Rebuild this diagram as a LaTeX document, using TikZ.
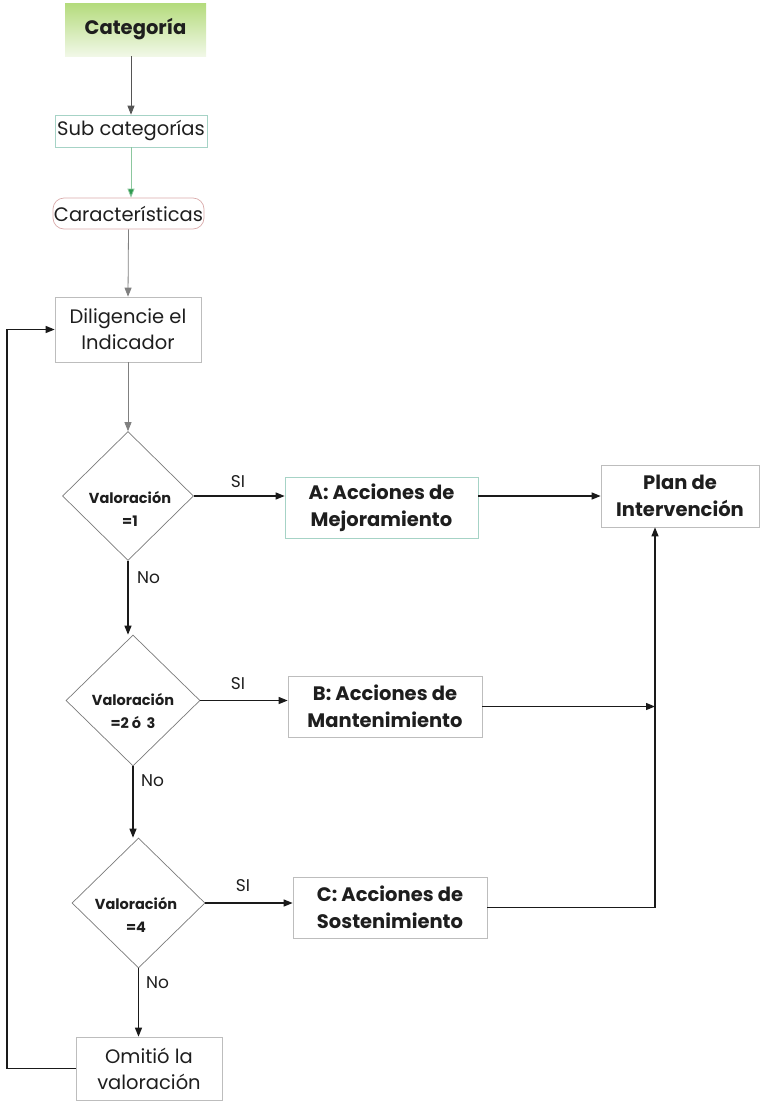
\documentclass[tikz,border=0pt]{standalone}
\usepackage{fontspec}
\setmainfont{Poppins}
\usetikzlibrary{shapes.geometric,arrows.meta,calc}
\definecolor{ink}{HTML}{1E1E1E}
\definecolor{wire}{HTML}{1A1A1A}
\definecolor{softwire}{HTML}{555555}
\definecolor{boxgray}{HTML}{BDBDBD}
\definecolor{tealline}{HTML}{A6D3C6}
\definecolor{pinkline}{HTML}{D9AAAA}
\definecolor{diagray}{HTML}{7A7A7A}
\definecolor{leafgreen}{HTML}{B4DB7C}
\definecolor{palegreen}{HTML}{F1F8E7}
\definecolor{arrowgreen}{HTML}{2E9A4E}
\begin{document}
\begin{tikzpicture}[x=1pt,y=-1pt,
  base/.style={rectangle, inner sep=0pt, align=center, text=ink},
  plainbox/.style={base, draw=boxgray, line width=0.7pt, font=\fontsize{19.5}{26}\selectfont},
  strongbox/.style={base, draw=boxgray, line width=0.7pt, font=\bfseries\fontsize{19.5}{27}\selectfont},
  decision/.style={diamond, draw=diagray, line width=0.7pt, inner sep=0pt},
  dtext/.style={align=center, text=ink, inner sep=0pt, font=\bfseries\fontsize{14.5}{23}\selectfont},
  lab/.style={text=ink, inner sep=0pt, font=\fontsize{17}{20}\selectfont},
  arr/.style={draw=wire, line width=1.3pt, -{Triangle[length=9pt,width=7pt]}},
  thinarr/.style={draw=softwire, line width=0.8pt, -{Triangle[length=9pt,width=7pt]}},
  wireline/.style={draw=wire, line width=1.3pt}
]
\useasboundingbox (0,0) rectangle (762,1101);

% header and top chain
\node[base, minimum width=141pt, minimum height=53pt, top color=leafgreen, bottom color=palegreen,
      font=\bfseries\fontsize{19.5}{24}\selectfont] (cat) at (135.5,29.5) {Categoría};
\node[plainbox, draw=tealline, minimum width=152pt, minimum height=32pt] (sub) at (131,131) {Sub categorías};
\node[plainbox, draw=pinkline, rounded corners=11pt, minimum width=151pt, minimum height=31pt] (car) at (128.5,213.5) {Características};
\node[plainbox, minimum width=146pt, minimum height=65pt] (dil) at (128,329.5) {Diligencie el\\Indicador};

% decisions
\node[decision, minimum width=131pt, minimum height=129pt] (D1) at (128,496) {};
\node[dtext] (D1t) at (130,509) {Valoración\\=1};
\node[decision, minimum width=134pt, minimum height=131pt] (D2) at (133,700.5) {};
\node[dtext] (D2t) at (133,711) {Valoración\\=2 ó \,3};
\node[decision, minimum width=133pt, minimum height=130pt] (D3) at (138.5,903) {};
\node[dtext] (D3t) at (136,915) {Valoración\\=4};

% actions
\node[strongbox, draw=tealline, minimum width=193pt, minimum height=61pt] (A) at (381.5,507.5) {A: Acciones de\\Mejoramiento};
\node[strongbox, minimum width=194pt, minimum height=61pt] (B) at (385,706.5) {B: Acciones de\\Mantenimiento};
\node[strongbox, minimum width=194pt, minimum height=61pt] (C) at (390,907.5) {C: Acciones de\\Sostenimiento};
\node[strongbox, minimum width=158pt, minimum height=62pt] (plan) at (680,496) {Plan de\\Intervención};

\node[plainbox, minimum width=146pt, minimum height=63pt] (om) at (149,1068.5) {Omitió la\\valoración};

% top chain connectors
\draw[thinarr] (cat.south -| sub.north) -- (sub.north);
\draw[draw=arrowgreen!55, line width=0.8pt, -{Triangle[length=9pt,width=7pt,fill=arrowgreen]}, arrowgreen!55]
  (sub.south) -- (sub.south |- car.north);
\draw[thinarr, draw=gray] (car.south) -- (dil.north);
\draw[thinarr, draw=gray] (dil.south) -- (D1.north);

% yes branches
\draw[arr] (D1.east) -- (D1.east -| A.west);
\draw[arr] (D2.east) -- (D2.east -| B.west);
\draw[arr] (D3.east) -- (D3.east -| C.west);
\node[lab] (si1) at (238,482) {SI};
\node[lab] (si2) at (238,684) {SI};
\node[lab] (si3) at (243,886) {SI};

% collection into the plan
\coordinate (hub) at ([xshift=-25pt]plan.south);
\draw[arr] (A.east |- plan.west) -- (plan.west);
\draw[arr] (B.east) -- (B.east -| hub);
\draw[arr] (C.east) -| (hub);

% no branches
\draw[arr] (D1.south) -- (D1.south |- D2.north);
\draw[arr] (D2.south) -- (D2.south |- D3.north);
\draw[arr] (D3.south) -- (D3.south |- om.north);
\node[lab, anchor=west] (no1) at (137,578) {No};
\node[lab, anchor=west] (no2) at (141,781) {No};
\node[lab, anchor=west] (no3) at (146,983) {No};

% return loop
\coordinate (rail) at (7,0);
\draw[arr] (om.west) -- (om.west -| rail) -- (rail |- dil.west) -- (dil.west);
\end{tikzpicture}
\end{document}
